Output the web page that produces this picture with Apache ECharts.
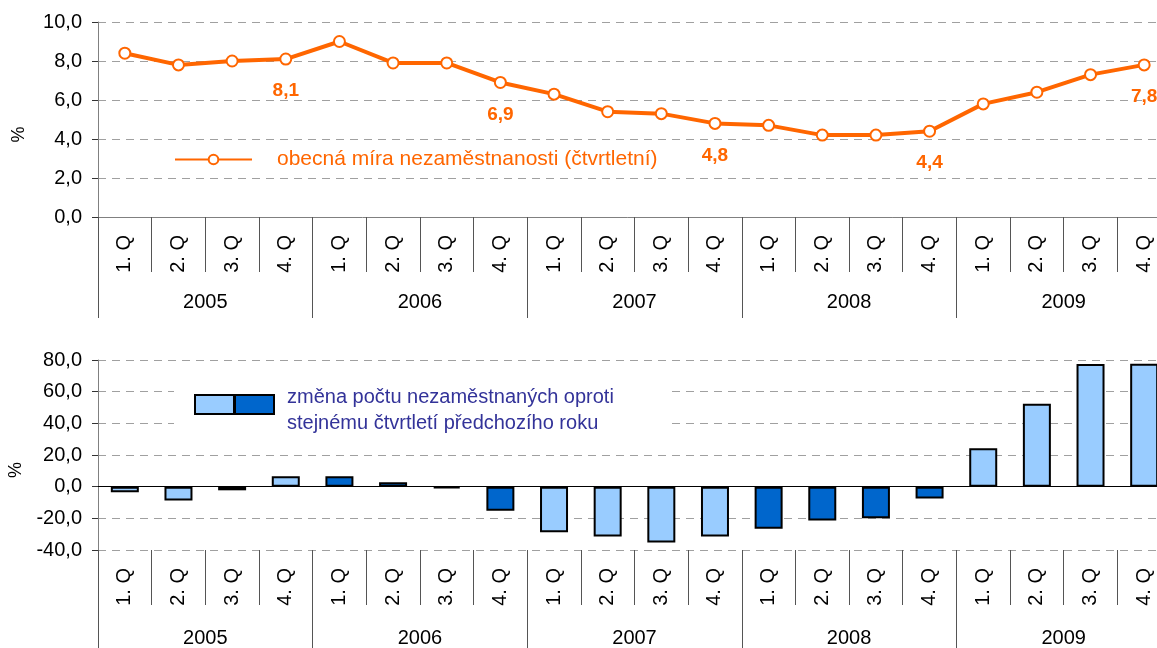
<!DOCTYPE html>
<html>
<head>
<meta charset="utf-8">
<script src="https://cdn.jsdelivr.net/npm/echarts@6/dist/echarts.min.js"></script>
<style>
  html, body { margin: 0; padding: 0; background: #fff; }
  #chart { width: 1157px; height: 648px; }
</style>
</head>
<body>
<div id="chart"></div>
<script>
// roky a čtvrtletí
var years = ['2005', '2006', '2007', '2008', '2009'];
var quarters = ['1. Q', '2. Q', '3. Q', '4. Q'];
// obecná míra nezaměstnanosti (%)
var rate = [8.4, 7.8, 8.0, 8.1, 9.0, 7.9, 7.9, 6.9, 6.3, 5.4, 5.3, 4.8, 4.7, 4.2, 4.2, 4.4, 5.8, 6.4, 7.3, 7.8];
// změna počtu nezaměstnaných proti stejnému čtvrtletí předchozího roku (%)
var change = [-3.5, -8.8, -2.3, 6.6, 6.6, 2.8, -1.2, -15.2, -28.8, -31.4, -35.2, -31.4, -26.5, -21.3, -20.0, -7.5, 24.3, 52.3, 77.5, 77.6];
// které body mají popisek (4. čtvrtletí)
var labelled = [3, 7, 11, 15, 19];

var lineName = 'obecná míra nezaměstnanosti (čtvrtletní)';
var orange = '#FF6600';
var light = '#99CCFF', dark = '#0066CC';
var font = 'Liberation Sans, Arial, sans-serif';

var cats = [];
years.forEach(function (y) { quarters.forEach(function (q) { cats.push(q); }); });

function comma(v) { return v.toFixed(1).replace('.', ','); }

var rateData = rate.map(function (v, i) {
  return labelled.indexOf(i) >= 0 ? { value: v, label: { show: true } } : v;
});
var barData = change.map(function (v, i) {
  return { value: v, itemStyle: { color: Math.floor(i / 4) % 2 ? dark : light } };
});

function qAxis(grid) {
  return {
    type: 'category', gridIndex: grid, data: cats, position: 'bottom',
    axisLine: { show: grid === 0, onZero: false, lineStyle: { color: '#808080', width: 1 } },
    axisTick: { show: true, length: 55, interval: 0, lineStyle: { color: '#555' } },
    axisLabel: { rotate: 90, interval: 0, margin: 18, color: '#000', fontSize: 20, fontFamily: font }
  };
}
function yAxis_(grid, min, max, step) {
  return {
    type: 'value', gridIndex: grid, min: min, max: max, interval: step,
    name: '%', nameLocation: 'middle', nameGap: 70, nameRotate: 90,
    nameTextStyle: { color: '#000', fontSize: 18, fontFamily: font, padding: [0, 30, 0, 0] },
    axisLine: { show: true, lineStyle: { color: '#808080', width: 1 } },
    axisTick: { show: true, length: 6, lineStyle: { color: '#333' } },
    axisLabel: { color: '#000', fontSize: 20, fontFamily: font, margin: 16, formatter: comma },
    splitLine: { lineStyle: { color: '#A0A0A0', type: [8, 6], width: 1 } }
  };
}
function yearAxis(grid, len, margin) {
  return {
    type: 'category', gridIndex: grid, data: years, position: 'bottom',
    axisLine: { show: false, onZero: false },
    axisTick: { show: true, length: len, lineStyle: { color: '#555' } },
    axisLabel: { margin: margin, color: '#000', fontSize: 20, fontFamily: font }
  };
}

var chart = echarts.init(document.getElementById('chart'));
chart.setOption({
  animation: false,
  textStyle: { fontFamily: font },
  grid: [
    { left: 98, top: 22, width: 1073, height: 195, outerBoundsMode: 'none', containLabel: false },
    { left: 98, top: 360, width: 1073, height: 190, outerBoundsMode: 'none', containLabel: false }
  ],
  legend: {
    data: [lineName], left: 174, top: 149, padding: 0, itemWidth: 77, itemHeight: 12,
    textStyle: { color: orange, fontSize: 21, fontFamily: font, padding: [0, 0, 0, 20] }
  },
  xAxis: [qAxis(0), yearAxis(0, 101, 75), qAxis(1), yearAxis(1, 110, 78)],
  yAxis: [yAxis_(0, 0, 10, 2), yAxis_(1, -40, 80, 20)],
  graphic: [
    { type: 'rect', z: 100, shape: { x: 174, y: 372, width: 493, height: 64 }, style: { fill: '#fff' } },
    { type: 'rect', z: 101, shape: { x: 195, y: 395, width: 39, height: 19 }, style: { fill: light, stroke: '#000', lineWidth: 2 } },
    { type: 'rect', z: 101, shape: { x: 235, y: 395, width: 39, height: 19 }, style: { fill: dark, stroke: '#000', lineWidth: 2 } },
    { type: 'text', z: 101, x: 287, y: 397, style: { text: 'změna počtu nezaměstnaných oproti', fill: '#333399', fontSize: 20, fontFamily: font, verticalAlign: 'middle' } },
    { type: 'text', z: 101, x: 287, y: 423, style: { text: 'stejnému čtvrtletí předchozího roku', fill: '#333399', fontSize: 20, fontFamily: font, verticalAlign: 'middle' } }
  ],
  series: [
    {
      name: lineName, type: 'line', xAxisIndex: 0, yAxisIndex: 0, data: rateData,
      symbol: 'circle', symbolSize: 11,
      lineStyle: { color: orange, width: 4 },
      itemStyle: { color: '#fff', borderColor: orange, borderWidth: 2 },
      label: { show: false, position: 'bottom', distance: 16, color: orange, fontSize: 19, fontWeight: 'bold', fontFamily: font, formatter: function (p) { return comma(p.value); } }
    },
    {
      name: 'změna', type: 'bar', xAxisIndex: 2, yAxisIndex: 1, data: barData, barWidth: 28,
      itemStyle: { borderColor: '#000', borderWidth: 2 },
      markLine: {
        silent: true, symbol: 'none', label: { show: false },
        lineStyle: { color: '#000', type: 'solid', width: 1 },
        data: [{ yAxis: 0 }]
      }
    }
  ]
});
</script>
</body>
</html>
